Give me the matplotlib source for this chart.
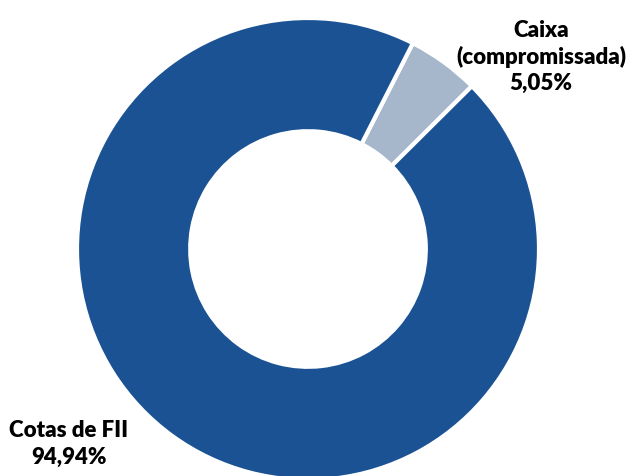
import matplotlib.pyplot as plt

# composition of the portfolio
labels = ["Caixa\n(compromissada)", "Cotas de FII"]
values = [5.05, 94.94]
colors = ["#A6B6CB", "#1A5294"]

plt.rcParams['font.family'] = ['Lato', 'DejaVu Sans']

fig = plt.figure(figsize=(6.28, 4.77), dpi=100)
ax = fig.add_axes([0, 0, 1, 1])

radius = 231
ax.pie(values, colors=colors, startangle=63, counterclock=False,
       center=(308, 227), radius=radius,
       wedgeprops=dict(width=radius * 0.49, edgecolor="white", linewidth=3))

# pie resets the limits, so set the pixel frame afterwards
ax.set_xlim(0, 628)
ax.set_ylim(0, 477)
ax.set_aspect('equal')
ax.axis('off')

# labels beside the ring
ax.text(541, 420, "%s\n%s%%" % (labels[0], str(values[0]).replace(".", ",")),
        ha='center', va='center', fontsize=16, fontweight='heavy',
        linespacing=1.3, color="black")
ax.text(69, 33, "%s\n%s%%" % (labels[1], str(values[1]).replace(".", ",")),
        ha='center', va='center', fontsize=16, fontweight='heavy',
        linespacing=1.3, color="black")

fig.savefig("out.png", dpi=100)
